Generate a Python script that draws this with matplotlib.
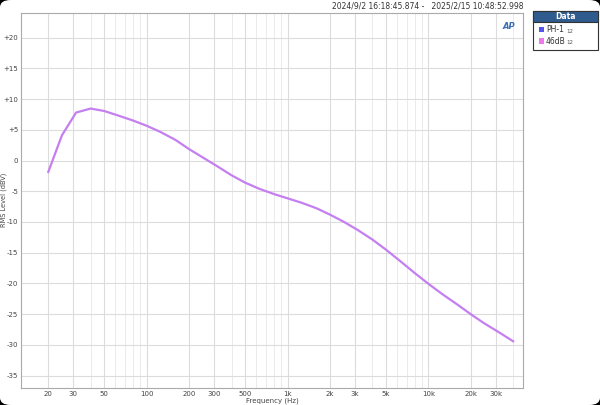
import matplotlib
matplotlib.use("Agg")
import matplotlib.pyplot as plt
from matplotlib.patches import FancyBboxPatch, Rectangle
from matplotlib.ticker import FixedLocator, NullFormatter

freq = [20, 25, 31.5, 40, 50, 63, 80, 100, 125, 160, 200, 250, 315, 400, 500, 630, 800,
        1000, 1250, 1600, 2000, 2500, 3150, 4000, 5000, 6300, 8000, 10000, 12500, 16000,
        20000, 25000, 31500, 40000]
level = [-1.85, 4.1, 7.8, 8.45, 8.05, 7.3, 6.5, 5.65, 4.65, 3.35, 1.85, 0.5, -0.9, -2.4, -3.6,
         -4.6, -5.45, -6.15, -6.85, -7.75, -8.8, -9.95, -11.3, -12.85, -14.5, -16.35, -18.3,
         -20.05, -21.7, -23.4, -25.0, -26.5, -27.9, -29.4]

xticks = [20, 30, 50, 100, 200, 300, 500, 1000, 2000, 3000, 5000, 10000, 20000, 30000]
xticklabels = ["20", "30", "50", "100", "200", "300", "500", "1k", "2k", "3k", "5k", "10k", "20k", "30k"]
yticks = [20, 15, 10, 5, 0, -5, -10, -15, -20, -25, -30, -35]
yticklabels = ["+20", "+15", "+10", "+5", "0", "-5", "-10", "-15", "-20", "-25", "-30", "-35"]

legend_names = ["PH-1", "46dB"]
legend_colors = ["#5555ee", "#ee77ee"]
line_color = "#c47ff0"

fig = plt.figure(figsize=(6.0, 4.05), dpi=100)
fig.patch.set_facecolor("black")
bg = FancyBboxPatch((0.0, 0.0), 1.0, 1.0, boxstyle="round,pad=0,rounding_size=0.018",
                    transform=fig.transFigure, facecolor="white", edgecolor="none", zorder=-10)
fig.patches.append(bg)

ax = fig.add_axes([0.035, 0.042, 0.8367, 0.926])
ax.set_facecolor("white")
ax.set_xscale("log")
ax.set_xlim(12.8, 47000)
ax.set_ylim(-37, 24)

minor = []
for dec in [10, 100, 1000, 10000]:
    for m in range(2, 10):
        v = dec * m
        if 12.8 < v < 47000:
            minor.append(v)
ax.xaxis.set_major_locator(FixedLocator(xticks))
ax.set_xticklabels(xticklabels)
ax.xaxis.set_minor_locator(FixedLocator(minor))
ax.xaxis.set_minor_formatter(NullFormatter())
ax.set_yticks(yticks)
ax.set_yticklabels(yticklabels)

ax.grid(True, which="major", color="#dcdcdc", linewidth=0.8)
ax.grid(True, which="minor", axis="x", color="#e6e6e6", linewidth=0.6)
ax.tick_params(axis="x", which="both", length=0, labelsize=5, labelcolor="#444444", pad=2)
ax.tick_params(axis="y", which="both", length=0, labelsize=5, labelcolor="#444444", pad=2)
for s in ax.spines.values():
    s.set_color("#aaaaaa")
    s.set_linewidth(0.8)

ax.plot(freq, level, color=line_color, linewidth=1.6, solid_joinstyle="round")

fig.text(0.5 * (0.035 + 0.8717), 1 - 400.5 / 405, "Frequency (Hz)", fontsize=5,
         color="#444444", ha="center", va="center")
fig.text(4 / 600, 1 - 200 / 405, "RMS Level (dBV)", fontsize=4.8, color="#444444",
         ha="center", va="center", rotation=90)

fig.text(0.8717, 0.985, "2024/9/2 16:18:45.874 -   2025/2/15 10:48:52.998", fontsize=5.5,
         color="#333333", ha="right", va="center")
ax.text(0.985, 0.975, "AP", transform=ax.transAxes, fontsize=6, color="#3a6fb5",
        fontweight="bold", style="italic", ha="right", va="top")

# legend box
lx0, ly0, lw, lh = 533 / 600, 1 - 50 / 405, 65 / 600, 39 / 405
fig.patches.append(Rectangle((lx0, ly0), lw, lh, transform=fig.transFigure,
                             facecolor="white", edgecolor="#333333", linewidth=0.8))
hh = 11 / 405
fig.patches.append(Rectangle((lx0, ly0 + lh - hh), lw, hh, transform=fig.transFigure,
                             facecolor="#2f5b8e", edgecolor="#333333", linewidth=0.8))
fig.text(lx0 + lw / 2, ly0 + lh - hh / 2, "Data", fontsize=5.5, color="white",
         fontweight="bold", ha="center", va="center")
for i, (name, col) in enumerate(zip(legend_names, legend_colors)):
    yy = 1 - (29 + i * 12) / 405
    fig.patches.append(Rectangle((lx0 + 6 / 600, yy - 2.5 / 405), 5 / 600, 5 / 405,
                                 transform=fig.transFigure, facecolor=col, edgecolor="none"))
    fig.text(lx0 + 13 / 600, yy, name, fontsize=5.5, color="#333333", ha="left", va="center")
    fig.text(lx0 + 33 / 600, yy - 2 / 405, "12", fontsize=4, color="#555555", ha="left", va="center")

fig.savefig("out.png", dpi=100, facecolor=fig.get_facecolor())
